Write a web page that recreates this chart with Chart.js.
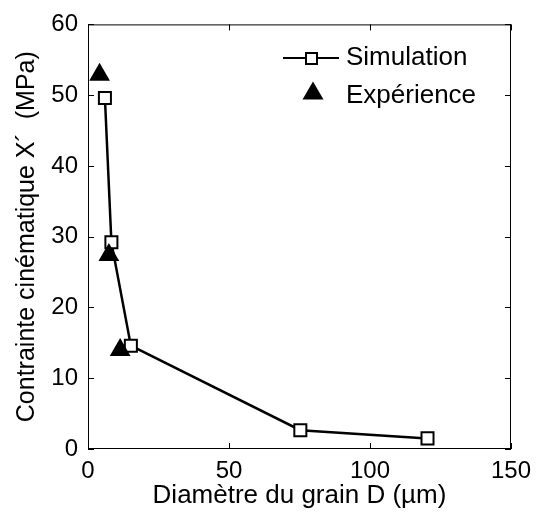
<!DOCTYPE html>
<html>
<head>
<meta charset="utf-8">
<script src="https://cdn.jsdelivr.net/npm/chart.js@4.4.1/dist/chart.umd.min.js"></script>
<style>
  html, body { margin: 0; padding: 0; background: #fff; }
  #wrap { width: 539px; height: 513px; }
</style>
</head>
<body>
<div id="wrap"><canvas id="c" width="539" height="513"></canvas></div>
<script>
// Data
const simD = [6.0, 8.3, 15.2, 75.3, 120.4];
const simX = [49.6, 29.2, 14.6, 2.66, 1.5];
const expD = [4.1, 7.4, 11.4];
const expX = [52.9, 27.4, 14.0];
const xTicks = [0, 50, 100, 150];
const yTicks = [0, 10, 20, 30, 40, 50, 60];
const seriesNames = ['Simulation', 'Expérience'];
const xTitle = 'Diamètre du grain D (µm)';
const yTitle = 'Contrainte cinématique X´  (MPa)';

const FONT = "'Liberation Sans', Arial, sans-serif";

const simPts = simD.map((d, i) => ({ x: d, y: simX[i] }));
const expPts = expD.map((d, i) => ({ x: d, y: expX[i] }));

const boxPlugin = {
  id: 'boxTicks',
  afterDatasetsDraw(chart) {
    const { ctx, chartArea: a, scales: { x, y } } = chart;
    ctx.save();
    ctx.strokeStyle = '#000';
    ctx.lineWidth = 1;
    ctx.strokeRect(a.left + 0.5, a.top + 0.5, a.right - a.left - 1, a.bottom - a.top - 1);
    const L = 6;
    ctx.beginPath();
    xTicks.forEach(v => {
      const px = Math.round(x.getPixelForValue(v)) + 0.5;
      ctx.moveTo(px, a.bottom); ctx.lineTo(px, a.bottom - L);
      ctx.moveTo(px, a.top); ctx.lineTo(px, a.top + L);
    });
    yTicks.forEach(v => {
      const py = Math.round(y.getPixelForValue(v)) + 0.5;
      ctx.moveTo(a.left, py); ctx.lineTo(a.left + L, py);
      ctx.moveTo(a.right, py); ctx.lineTo(a.right - L, py);
    });
    ctx.stroke();
    ctx.restore();
  },
  afterDraw(chart) {
    const { ctx } = chart;
    ctx.save();
    ctx.fillStyle = '#000';
    ctx.strokeStyle = '#000';
    ctx.font = '26px ' + FONT;
    ctx.textBaseline = 'middle';
    ctx.textAlign = 'left';
    // Simulation entry
    const y1 = 58, y2 = 96;
    ctx.lineWidth = 2;
    ctx.beginPath();
    ctx.moveTo(283, y1); ctx.lineTo(339, y1);
    ctx.stroke();
    ctx.fillStyle = '#fff';
    ctx.fillRect(306, y1 - 5, 11, 11);
    ctx.strokeRect(306, y1 - 5, 11, 11);
    ctx.fillStyle = '#000';
    ctx.fillText(seriesNames[0], 346, y1);
    // Expérience entry
    ctx.beginPath();
    ctx.moveTo(313, 81.5);
    ctx.lineTo(323.5, 99.5);
    ctx.lineTo(302.5, 99.5);
    ctx.closePath();
    ctx.fill();
    ctx.fillText(seriesNames[1], 346, y2);
    ctx.restore();
  }
};

new Chart(document.getElementById('c'), {
  type: 'scatter',
  data: {
    datasets: [
      {
        label: seriesNames[0],
        data: simPts,
        showLine: true,
        borderColor: '#000',
        borderWidth: 2.5,
        pointStyle: 'rect',
        pointRadius: 8.5,
        pointBorderWidth: 2,
        pointBackgroundColor: '#fff',
        pointBorderColor: '#000',
        tension: 0,
        order: 1
      },
      {
        label: seriesNames[1],
        data: expPts,
        showLine: false,
        pointStyle: 'triangle',
        pointRadius: 12,
        pointBorderWidth: 0,
        pointBackgroundColor: '#000',
        pointBorderColor: '#000',
        order: 0
      }
    ]
  },
  options: {
    responsive: false,
    animation: false,
    devicePixelRatio: 1,
    layout: { padding: { top: 20, right: 24, left: 0, bottom: 0 } },
    plugins: { legend: { display: false }, tooltip: { enabled: false } },
    scales: {
      x: {
        type: 'linear',
        min: 0, max: 150,
        afterBuildTicks(s) { s.ticks = xTicks.map(v => ({ value: v })); },
        afterFit(s) { s.height = 64; },
        grid: { display: false, drawTicks: false },
        border: { display: false },
        ticks: { padding: 8, color: '#000', font: { family: FONT, size: 24 }, maxRotation: 0 },
        title: { display: true, text: xTitle, color: '#000', font: { family: FONT, size: 26, lineHeight: 1 }, padding: { top: 0, bottom: 4 } }
      },
      y: {
        type: 'linear',
        min: 0, max: 60,
        afterBuildTicks(s) { s.ticks = yTicks.map(v => ({ value: v })); },
        afterFit(s) { s.width = 88; },
        grid: { display: false, drawTicks: false },
        border: { display: false },
        ticks: { padding: 10, color: '#000', font: { family: FONT, size: 24 } },
        title: { display: true, text: yTitle, color: '#000', font: { family: FONT, size: 25, lineHeight: 1 }, padding: { top: 15, bottom: 0 } }
      }
    }
  },
  plugins: [boxPlugin]
});
</script>
</body>
</html>
